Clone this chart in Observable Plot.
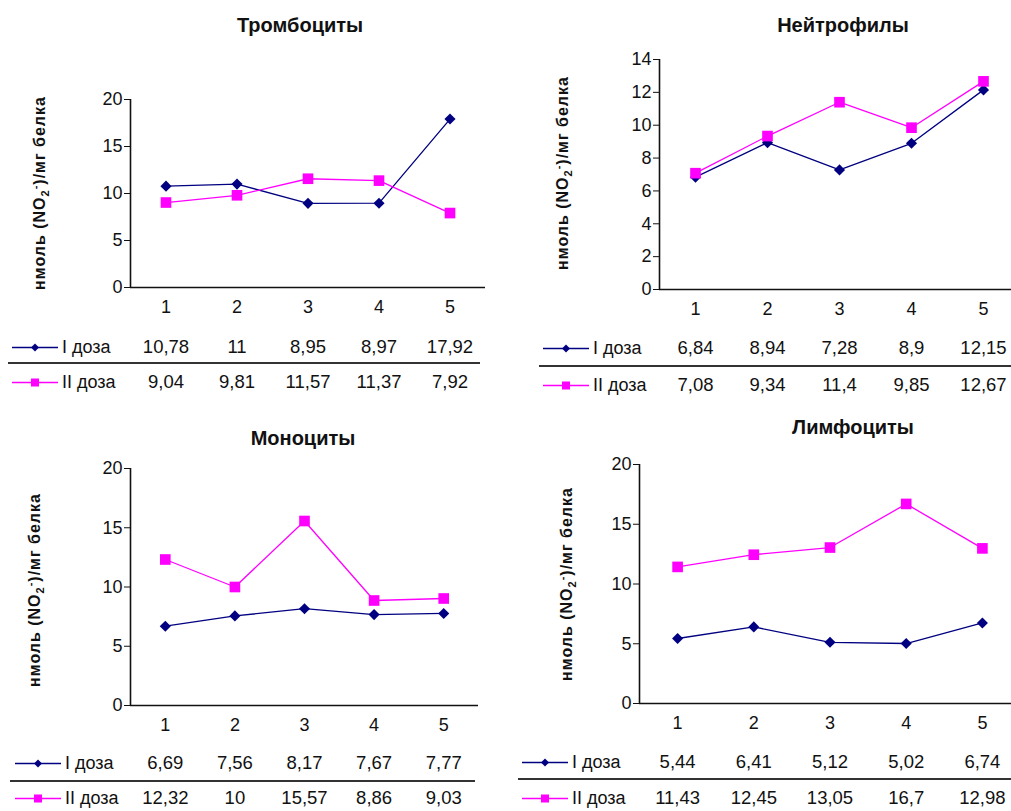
<!DOCTYPE html>
<html><head><meta charset="utf-8">
<script src="https://cdn.jsdelivr.net/npm/d3@7"></script>
<script src="https://cdn.jsdelivr.net/npm/@observablehq/plot@0.6"></script>
<style>
body{margin:0;background:#fff;font-family:"Liberation Sans",Arial,sans-serif;color:#111}
#root{position:relative;width:1011px;height:811px;overflow:hidden;background:#fff}
.abs{position:absolute}
.title{font-weight:bold;font-size:20px;transform:translate(-50%,-50%);white-space:nowrap}
.ylab{font-weight:bold;font-size:16px;letter-spacing:1px;white-space:nowrap;transform:translate(-50%,-50%) rotate(-90deg)}
.ylab sub,.ylab sup{font-size:11px}
.sep{height:0;border-top:2px solid #333}
.leg{display:flex;align-items:center;font-size:18px;transform:translateY(-50%);white-space:nowrap}
.leg svg{margin-right:4px}
</style></head><body><div id="root"></div><script>
// ---- data ----
const categories = [1, 2, 3, 4, 5];
const seriesNames = ["I доза", "II доза"];
const titles = ["Тромбоциты", "Нейтрофилы", "Моноциты", "Лимфоциты"];
const yLabel = "нмоль (NO<sub>2</sub><sup>-</sup>)/мг белка";

const thrombocytesI  = [10.78, 11, 8.95, 8.97, 17.92];
const thrombocytesII = [9.04, 9.81, 11.57, 11.37, 7.92];
const neutrophilsI   = [6.84, 8.94, 7.28, 8.9, 12.15];
const neutrophilsII  = [7.08, 9.34, 11.4, 9.85, 12.67];
const monocytesI     = [6.69, 7.56, 8.17, 7.67, 7.77];
const monocytesII    = [12.32, 10, 15.57, 8.86, 9.03];
const lymphocytesI   = [5.44, 6.41, 5.12, 5.02, 6.74];
const lymphocytesII  = [11.43, 12.45, 13.05, 16.7, 12.98];

const yMax = [20, 14, 20, 20];
const yTicks = [[0,5,10,15,20],[0,2,4,6,8,10,12,14],[0,5,10,15,20],[0,5,10,15,20]];

const panelSeries = [
  [thrombocytesI, thrombocytesII],
  [neutrophilsI, neutrophilsII],
  [monocytesI, monocytesII],
  [lymphocytesI, lymphocytesII]
];

// ---- layout (page px) ----
const layouts = [
  {box:[0,0,505], frame:{l:130,r:485,t:99,b:287},  title:[300,25],  ylab:[40,193],  rows:[347,382], sep:{y:363,x1:8,x2:480},   leg:12},
  {box:[505,0,506], frame:{l:659,r:1019,t:59,b:289}, title:[843,25],  ylab:[563,173], rows:[348,385], sep:{y:366,x1:539,x2:1011}, leg:543},
  {box:[0,405,505], frame:{l:130,r:478,t:468,b:705}, title:[303,438], ylab:[35,590],  rows:[763,798], sep:{y:781,x1:10,x2:475},  leg:15},
  {box:[505,405,506], frame:{l:639,r:1020,t:464,b:703}, title:[853,427], ylab:[567,584], rows:[762,798], sep:{y:779,x1:518,x2:1011}, leg:522}
];

const colors = ["#000080", "#FF00FF"];
const symbols = ["diamond2", "square"];
const radii = [5.0, 6.0];
const fmt = v => String(v).replace(".", ",");
const root = document.getElementById("root");
const font = '"Liberation Sans", Arial, sans-serif';

function place(el, x, y) { el.style.position = "absolute"; el.style.left = x + "px"; el.style.top = y + "px"; root.appendChild(el); return el; }

panelSeries.forEach((series, i) => {
  const L = layouts[i];
  const [bx, by, bw] = L.box;
  const rows = [];
  series.forEach((vals, k) => vals.forEach((v, j) => rows.push({cat: categories[j], value: v, series: seriesNames[k]})));

  const mL = L.frame.l - bx, mR = bx + bw - L.frame.r;
  const chart = Plot.plot({
    width: bw, height: L.frame.b - by + 40,
    marginLeft: mL, marginRight: mR, marginTop: L.frame.t - by, marginBottom: 40,
    style: {fontFamily: font, fontSize: "18px", color: "#111", background: "transparent", overflow: "visible"},
    x: {domain: [0.5, 5.5], ticks: categories, tickSize: 0, tickPadding: 13, tickFormat: d => String(d), label: null},
    y: {domain: [0, yMax[i]], ticks: yTicks[i], tickSize: 6, tickPadding: 2, label: null},
    marks: [
      Plot.ruleY([0], {stroke: "#111", strokeWidth: 1.6}),
      Plot.ruleX([0.5], {stroke: "#111", strokeWidth: 1.6}),
      ...seriesNames.map((s, k) => Plot.line(rows.filter(d => d.series === s), {x: "cat", y: "value", stroke: colors[k], strokeWidth: 1.3})),
      ...seriesNames.map((s, k) => Plot.dot(rows.filter(d => d.series === s), {x: "cat", y: "value", fill: colors[k], symbol: symbols[k], r: radii[k], stroke: "none"}))
    ]
  });
  place(chart, bx, by);

  const tTop = L.rows[0] - 20;
  const table = Plot.plot({
    width: bw, height: L.rows[1] - L.rows[0] + 40,
    marginLeft: mL, marginRight: mR, marginTop: 20, marginBottom: 20,
    style: {fontFamily: font, background: "transparent", overflow: "visible"},
    x: {domain: [0.5, 5.5], axis: null},
    y: {type: "point", domain: seriesNames, padding: 0, axis: null},
    marks: [
      Plot.text(rows, {x: "cat", y: "series", text: d => fmt(d.value), fontSize: 18.5, fill: "#111", lineAnchor: "middle"})
    ]
  });
  place(table, bx, tTop);

  const t = document.createElement("div"); t.className = "title"; t.textContent = titles[i]; place(t, L.title[0], L.title[1]);
  const yl = document.createElement("div"); yl.className = "ylab"; yl.innerHTML = yLabel; place(yl, L.ylab[0], L.ylab[1]);
  const sep = document.createElement("div"); sep.className = "sep"; sep.style.width = (L.sep.x2 - L.sep.x1) + "px"; place(sep, L.sep.x1, L.sep.y - 1);

  seriesNames.forEach((s, k) => {
    const lg = document.createElement("div"); lg.className = "leg";
    const marker = k === 0
      ? `<polygon points="23,3 27,7 23,11 19,7" fill="${colors[k]}"/>`
      : `<rect x="19" y="3" width="8" height="8" fill="${colors[k]}"/>`;
    lg.innerHTML = `<svg width="46" height="14"><line x1="0" y1="7" x2="46" y2="7" stroke="${colors[k]}" stroke-width="1.3"/>${marker}</svg><span>${s}</span>`;
    place(lg, L.leg, L.rows[k]);
  });
});
</script></body></html>
